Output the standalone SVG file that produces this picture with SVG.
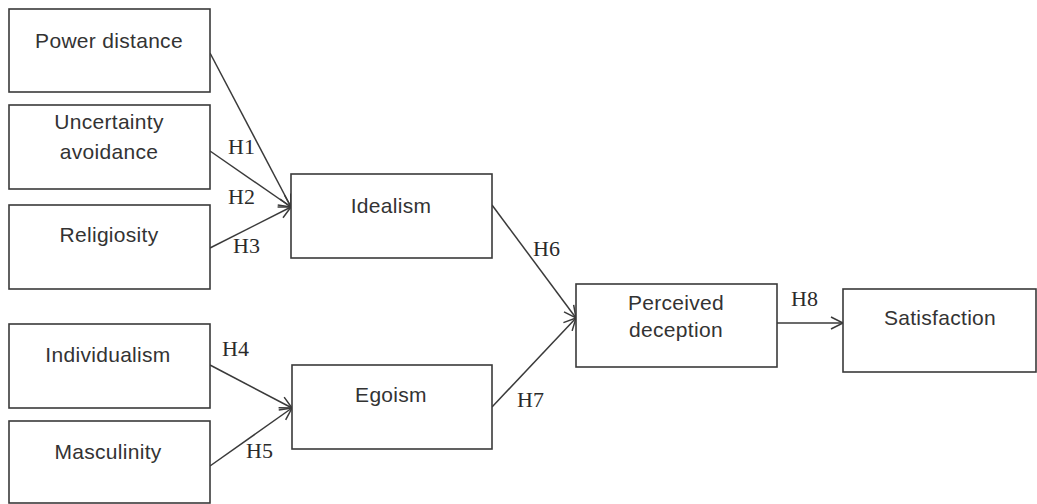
<svg xmlns="http://www.w3.org/2000/svg" width="1037" height="504" viewBox="0 0 1037 504">
<style>
.box{fill:#fff;stroke:#3a3a3a;stroke-width:1.6}
.lbl{font-family:"Liberation Sans",Arial,sans-serif;font-size:21px;letter-spacing:0.3px;fill:#333;text-anchor:middle}
.h{font-family:"Liberation Serif","Times New Roman",serif;font-size:22px;fill:#2a2a2a}
.c{stroke:#3a3a3a;stroke-width:1.5;fill:none;marker-end:url(#arr)}
</style>
<defs>
<marker id="arr" markerUnits="userSpaceOnUse" markerWidth="16" markerHeight="16" refX="13" refY="7" orient="auto">
<path d="M1,1 L13,7 L1,13" fill="none" stroke="#3a3a3a" stroke-width="1.5"/>
</marker>
</defs>
<rect width="1037" height="504" fill="#fff"/>
<g id="connectors">
<line class="c" x1="210" y1="53" x2="291" y2="207"/>
<line class="c" x1="210" y1="151" x2="291" y2="207"/>
<line class="c" x1="210" y1="248" x2="291" y2="207"/>
<line class="c" x1="210" y1="365" x2="292" y2="408"/>
<line class="c" x1="210" y1="466" x2="292" y2="408"/>
<line class="c" x1="492" y1="205" x2="576" y2="318"/>
<line class="c" x1="492" y1="407" x2="576" y2="318"/>
<line class="c" x1="777" y1="323" x2="843" y2="323"/>
<text class="h" x="228" y="154">H1</text>
<text class="h" x="228" y="204">H2</text>
<text class="h" x="233" y="253">H3</text>
<text class="h" x="222" y="356">H4</text>
<text class="h" x="246" y="458">H5</text>
<text class="h" x="533" y="256">H6</text>
<text class="h" x="517" y="407">H7</text>
<text class="h" x="791" y="306">H8</text>
</g>
<g id="power-distance">
<rect class="box" x="9" y="9" width="201" height="83"/>
<text class="lbl" x="109" y="48">Power distance</text>
</g>
<g id="uncertainty-avoidance">
<rect class="box" x="9" y="105" width="201" height="84"/>
<text class="lbl" x="109" y="129">Uncertainty</text>
<text class="lbl" x="109" y="159">avoidance</text>
</g>
<g id="religiosity">
<rect class="box" x="9" y="205" width="201" height="84"/>
<text class="lbl" x="109" y="242">Religiosity</text>
</g>
<g id="individualism">
<rect class="box" x="9" y="324" width="201" height="84"/>
<text class="lbl" x="108" y="362">Individualism</text>
</g>
<g id="masculinity">
<rect class="box" x="9" y="421" width="201" height="82"/>
<text class="lbl" x="108" y="459">Masculinity</text>
</g>
<g id="idealism">
<rect class="box" x="291" y="174" width="201" height="84"/>
<text class="lbl" x="391" y="213">Idealism</text>
</g>
<g id="egoism">
<rect class="box" x="292" y="365" width="200" height="84"/>
<text class="lbl" x="391" y="402">Egoism</text>
</g>
<g id="perceived-deception">
<rect class="box" x="576" y="284" width="201" height="83"/>
<text class="lbl" x="676" y="310">Perceived</text>
<text class="lbl" x="676" y="337">deception</text>
</g>
<g id="satisfaction">
<rect class="box" x="843" y="289" width="193" height="83"/>
<text class="lbl" x="940" y="325">Satisfaction</text>
</g>
</svg>
